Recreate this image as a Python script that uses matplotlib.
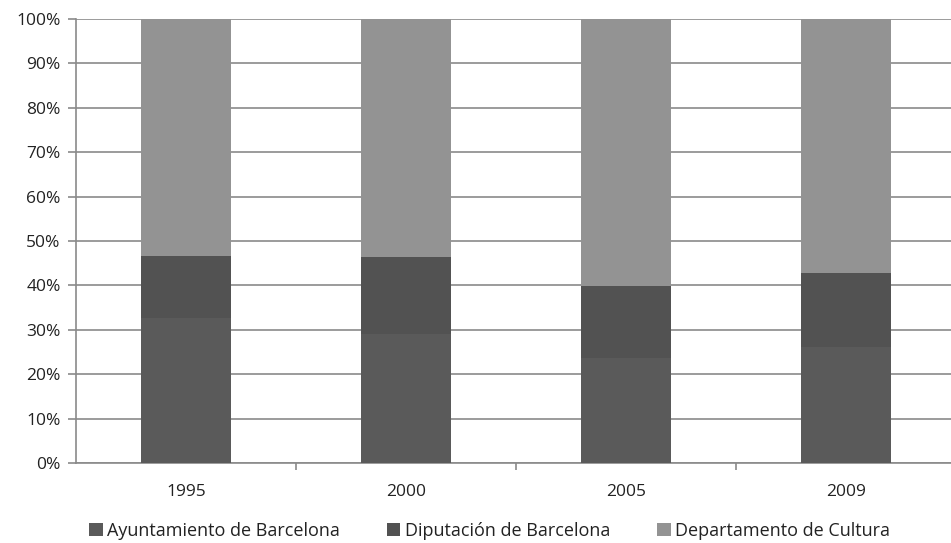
import numpy as np
import matplotlib.pyplot as plt
from matplotlib.ticker import FixedLocator, PercentFormatter

# Data (shares of funding, %)
YEARS = ["1995", "2000", "2005", "2009"]
AYUNTAMIENTO = [32.6, 29.0, 23.7, 26.2]
DIPUTACION = [14.0, 17.3, 16.2, 16.5]
CULTURA = [53.4, 53.7, 60.1, 57.3]
SERIES = ["Ayuntamiento de Barcelona", "Diputación de Barcelona", "Departamento de Cultura"]
COLORS = ["#5a5a5a", "#525252", "#939393"]

plt.rcParams['font.family'] = ['Open Sans', 'DejaVu Sans']

def main():
    fig = plt.figure(figsize=(9.51, 5.43), dpi=100)
    ax = fig.add_axes([76 / 951, 1 - 463 / 543, 880 / 951, 444 / 543])

    x = np.arange(len(YEARS))
    width = 0.405
    bottom = np.zeros(len(YEARS))
    for vals, name, col in zip([AYUNTAMIENTO, DIPUTACION, CULTURA], SERIES, COLORS):
        ax.bar(x, vals, width, bottom=bottom, color=col, label=name,
               edgecolor="none", zorder=3)
        bottom += np.array(vals)

    ax.set_xlim(-0.5, len(YEARS) - 0.5)
    ax.set_ylim(0, 100)
    ax.yaxis.set_major_locator(FixedLocator(np.arange(0, 101, 10)))
    ax.yaxis.set_major_formatter(PercentFormatter(decimals=0))
    ax.grid(axis="y", color="#8a8a8a", linewidth=1.2, zorder=0)

    ax.set_xticks(x)
    ax.set_xticklabels(YEARS)
    ax.set_xticks(np.arange(0.5, len(YEARS) - 1, 1), minor=True)
    ax.tick_params(axis="x", which="major", length=0, pad=15, labelsize=12.5, colors="#222222")
    ax.tick_params(axis="x", which="minor", length=5, width=1.2, color="#8a8a8a")
    ax.tick_params(axis="y", length=6, width=1.2, color="#8a8a8a", labelsize=12.5,
                   labelcolor="#222222", pad=5)

    for side in ["top", "right"]:
        ax.spines[side].set_visible(False)
    for side in ["left", "bottom"]:
        ax.spines[side].set_color("#8a8a8a")
        ax.spines[side].set_linewidth(1.2)

    fig.legend(loc="center left", bbox_to_anchor=(89 / 951, 1 - 531 / 543), ncol=3,
               frameon=False, fontsize=13, handlelength=0.75, handleheight=0.75,
               handletextpad=0.25, columnspacing=2.6, labelcolor="#222222",
               borderaxespad=0, borderpad=0)

    fig.savefig("out.png", dpi=100)

if __name__ == "__main__":
    main()
